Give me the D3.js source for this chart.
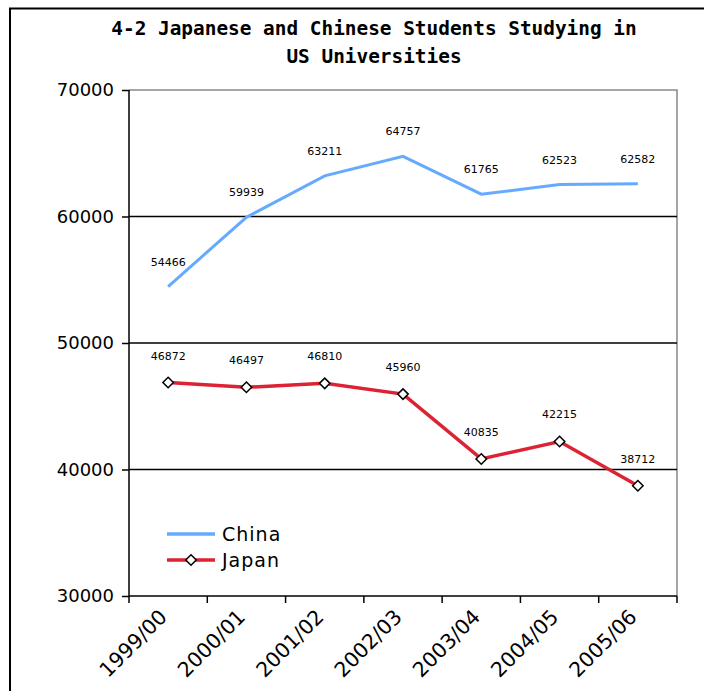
<!DOCTYPE html>
<html><head><meta charset="utf-8">
<script src="https://cdn.jsdelivr.net/npm/d3@7"></script>
<style>body{margin:0;background:#fff}svg{display:block}</style>
</head><body>
<script>
const categories = ["1999/00","2000/01","2001/02","2002/03","2003/04","2004/05","2005/06"];
const china = [54466,59939,63211,64757,61765,62523,62582];
const japan = [46872,46497,46810,45960,40835,42215,38712];
const yTicks = [30000,40000,50000,60000,70000];
const titleLines = ["4-2 Japanese and Chinese Students Studying in","US Universities"];

const W=704,H=691;
const svg=d3.select("body").append("svg").attr("width",W).attr("height",H);
svg.append("rect").attr("x",10).attr("y",8.5).attr("width",W+20).attr("height",H+20)
  .attr("fill","#fff").attr("stroke","#000").attr("stroke-width",2);

const L=129,R=677,T=90,B=596;
const x=d3.scaleBand().domain(categories).range([L,R]);
const y=d3.scaleLinear().domain([30000,70000]).range([B,T]);

// title
svg.append("g").selectAll("text").data(titleLines).join("text")
  .attr("x",374).attr("y",(d,i)=>35+i*28).attr("text-anchor","middle")
  .attr("font-family","'DejaVu Sans Mono', monospace").attr("font-weight","bold")
  .attr("font-size",19.4).text(d=>d);

// plot border (gray top/right)
svg.append("path").attr("d",`M${L},${T}H${R}V${B}`).attr("fill","none").attr("stroke","#888").attr("stroke-width",1.5);

// grid lines
svg.append("g").selectAll("line").data(yTicks.filter(v=>v>30000&&v<70000)).join("line")
  .attr("x1",L).attr("x2",R).attr("y1",d=>y(d)).attr("y2",d=>y(d)).attr("stroke","#000").attr("stroke-width",1.5);

// y axis
const ya=svg.append("g").attr("transform",`translate(${L},0)`)
  .call(d3.axisLeft(y).tickValues(yTicks).tickSize(7).tickPadding(8).tickFormat(d3.format("d")));
ya.selectAll("path,line").attr("stroke","#000").attr("stroke-width",1.5);
ya.select(".domain").attr("d",`M0,${T}V${B}`);
ya.selectAll("text").attr("font-family","'DejaVu Sans', Verdana, sans-serif").attr("font-size",18).attr("fill","#000");

// x axis
const xa=svg.append("g").attr("transform",`translate(0,${B})`)
  .call(d3.axisBottom(x).tickSize(0).tickFormat(""));
xa.select(".domain").attr("stroke","#000").attr("stroke-width",1.5).attr("d",`M${L},0H${R}`);
const edges=d3.range(categories.length+1).map(i=>L+i*x.step());
svg.append("g").selectAll("line").data(edges).join("line")
  .attr("x1",d=>d).attr("x2",d=>d).attr("y1",B).attr("y2",B+7).attr("stroke","#000").attr("stroke-width",1.5);
svg.append("g").selectAll("text").data(categories).join("text")
  .attr("transform",d=>`translate(${x(d)+x.bandwidth()/2-10},${B+12}) rotate(-45)`)
  .attr("text-anchor","end").attr("dy","0.7em")
  .attr("font-family","'DejaVu Sans', Verdana, sans-serif").attr("font-size",20.5).text(d=>d);

const cx=i=>x(categories[i])+x.bandwidth()/2;
const line=d3.line().x((d,i)=>cx(i)).y(d=>y(d));

svg.append("path").datum(china).attr("d",line).attr("fill","none").attr("stroke","#66aaff").attr("stroke-width",3);
svg.append("path").datum(japan).attr("d",line).attr("fill","none").attr("stroke","#dd2233").attr("stroke-width",3.5);

const diamond=d3.symbol().type(d3.symbolDiamond2).size(70);
svg.append("g").selectAll("path").data(japan).join("path")
  .attr("transform",(d,i)=>`translate(${cx(i)},${y(d)})`).attr("d",diamond)
  .attr("fill","#fff").attr("stroke","#000").attr("stroke-width",1.5);

function labels(data,off){
  svg.append("g").selectAll("text").data(data).join("text")
    .attr("x",(d,i)=>cx(i)).attr("y",d=>y(d)-off).attr("text-anchor","middle")
    .attr("font-family","'DejaVu Sans', Verdana, sans-serif").attr("font-size",11).text(d=>d);
}
labels(china,21);
labels(japan,23);

// legend
const leg=[{name:"China",color:"#66aaff",marker:false},{name:"Japan",color:"#dd2233",marker:true}];
const lg=svg.append("g").selectAll("g").data(leg).join("g").attr("transform",(d,i)=>`translate(167,${534+i*26})`);
lg.append("line").attr("x1",0).attr("x2",48).attr("stroke",d=>d.color).attr("stroke-width",3.5);
lg.filter(d=>d.marker).append("path").attr("transform","translate(24,0)").attr("d",diamond)
  .attr("fill","#fff").attr("stroke","#000").attr("stroke-width",1.5);
lg.append("text").attr("x",55).attr("dy","0.35em").attr("font-family","'DejaVu Sans', Verdana, sans-serif")
  .attr("font-size",19).attr("letter-spacing",1).text(d=>d.name);
</script>
</body></html>
